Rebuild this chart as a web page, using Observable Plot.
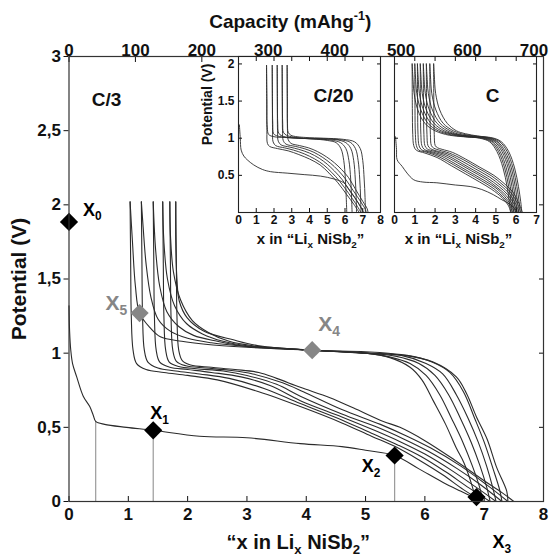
<!DOCTYPE html>
<html><head><meta charset="utf-8">
<script src="https://cdn.jsdelivr.net/npm/d3@7"></script>
<script src="https://cdn.jsdelivr.net/npm/@observablehq/plot@0.6"></script>
<style>
html,body{margin:0;padding:0;background:#fff;}
#chart{position:relative;width:550px;height:558px;overflow:hidden;}
#chart svg{position:absolute;}
</style></head><body><div id="chart"></div>
<script>
// ---------- DATA ----------
const xTicks = [0,1,2,3,4,5,6,7,8];
const yTicks = [0,0.5,1,1.5,2,2.5,3];
const capTicks = [0,100,200,300,400,500,600,700];
const capPerX = 89.3;

// main panel (C/3)
const mainFirst = [[0,1.32],[0.01,1.15],[0.03,1.02],[0.06,0.93],[0.13,0.84],[0.24,0.71],[0.35,0.64],[0.41,0.58],[0.45,0.54],[0.6,0.52],[0.97,0.50],[1.42,0.48],[2.2,0.44],[3.0,0.43],[3.9,0.39],[4.6,0.37],[5.0,0.345],[5.49,0.31],[5.9,0.22],[6.3,0.13],[6.6,0.07],[6.86,0.02]];
const mainCharge = [
 [[6.86,0],[6.8,0.1],[6.66,0.26],[6.53,0.36],[6.35,0.52],[6.14,0.68],[5.95,0.82],[5.75,0.905],[5.41,0.97],[5.0,1.0],[4.1,1.02],[3.0,1.04],[2.3,1.06],[1.9,1.08],[1.54,1.11],[1.37,1.17],[1.19,1.27],[1.12,1.45],[1.07,1.75],[1.03,2.02]],
 [[6.98,0],[6.92,0.1],[6.8,0.24],[6.64,0.4],[6.45,0.56],[6.25,0.72],[6.02,0.85],[5.75,0.93],[5.4,0.975],[5.0,1.0],[4.1,1.02],[3.0,1.045],[2.4,1.07],[2.0,1.1],[1.7,1.15],[1.5,1.23],[1.38,1.38],[1.3,1.6],[1.25,1.85],[1.22,2.02]],
 [[7.1,0],[7.04,0.1],[6.93,0.24],[6.78,0.4],[6.6,0.56],[6.4,0.72],[6.17,0.85],[5.9,0.93],[5.5,0.98],[5.0,1.0],[4.1,1.02],[3.0,1.045],[2.5,1.08],[2.1,1.12],[1.85,1.18],[1.65,1.28],[1.53,1.45],[1.46,1.7],[1.42,2.02]],
 [[7.2,0],[7.14,0.1],[7.04,0.24],[6.9,0.4],[6.73,0.56],[6.53,0.72],[6.3,0.86],[6.02,0.93],[5.6,0.985],[5.0,1.0],[4.1,1.02],[3.0,1.05],[2.6,1.08],[2.25,1.13],[1.98,1.2],[1.78,1.32],[1.66,1.5],[1.6,1.75],[1.58,2.02]],
 [[7.3,0],[7.26,0.08],[7.15,0.22],[7.0,0.4],[6.84,0.56],[6.65,0.74],[6.42,0.87],[6.12,0.94],[5.7,0.985],[5.0,1.0],[4.1,1.02],[3.1,1.05],[2.7,1.08],[2.35,1.14],[2.08,1.22],[1.88,1.36],[1.76,1.55],[1.71,1.8],[1.7,2.02]],
 [[7.4,0],[7.38,0.07],[7.21,0.23],[7.05,0.42],[6.87,0.57],[6.7,0.73],[6.53,0.84],[6.14,0.94],[5.6,0.99],[5.0,1.01],[4.1,1.02],[3.2,1.05],[2.77,1.09],[2.27,1.15],[1.99,1.24],[1.86,1.35],[1.82,1.5],[1.8,1.75],[1.8,2.02]]
];
const mainDischarge = [
 [[1.03,2.02],[1.04,1.6],[1.05,1.25],[1.08,1.02],[1.14,0.93],[1.3,0.89],[1.6,0.87],[2.0,0.85],[2.5,0.82],[3.2,0.74],[3.9,0.64],[4.6,0.53],[5.1,0.44],[5.5,0.37],[5.9,0.28],[6.3,0.18],[6.65,0.08],[6.98,0]],
 [[1.22,2.02],[1.23,1.6],[1.24,1.25],[1.27,1.02],[1.33,0.94],[1.5,0.9],[1.8,0.88],[2.2,0.86],[2.7,0.83],[3.3,0.76],[3.9,0.66],[4.6,0.55],[5.1,0.46],[5.55,0.38],[5.95,0.3],[6.35,0.2],[6.75,0.09],[7.1,0]],
 [[1.42,2.02],[1.43,1.6],[1.44,1.25],[1.47,1.02],[1.53,0.94],[1.7,0.905],[2.0,0.89],[2.4,0.87],[2.9,0.84],[3.4,0.78],[3.9,0.68],[4.6,0.57],[5.15,0.48],[5.6,0.4],[6.0,0.32],[6.45,0.21],[6.85,0.1],[7.2,0]],
 [[1.58,2.02],[1.59,1.6],[1.6,1.25],[1.63,1.02],[1.69,0.94],[1.85,0.91],[2.15,0.895],[2.6,0.88],[3.0,0.85],[3.5,0.79],[3.9,0.71],[4.6,0.59],[5.2,0.5],[5.65,0.42],[6.05,0.34],[6.55,0.22],[6.95,0.11],[7.3,0]],
 [[1.7,2.02],[1.71,1.6],[1.72,1.25],[1.75,1.02],[1.81,0.945],[1.97,0.915],[2.3,0.9],[2.7,0.885],[3.1,0.86],[3.6,0.8],[3.95,0.74],[4.6,0.62],[5.25,0.52],[5.7,0.44],[6.1,0.36],[6.6,0.24],[7.05,0.11],[7.4,0]],
 [[1.8,2.02],[1.81,1.6],[1.82,1.25],[1.85,1.02],[1.91,0.95],[2.05,0.92],[2.4,0.905],[2.8,0.89],[3.2,0.87],[3.5,0.83],[3.9,0.77],[4.4,0.7],[4.8,0.63],[5.3,0.54],[5.58,0.5],[6.0,0.41],[6.5,0.28],[7.0,0.14],[7.3,0.06],[7.5,0]]
];
const markerNames = ["X_{0}","X_{1}","X_{2}","X_{3}","X_{4}","X_{5}"];
const markerX = [0, 1.42, 5.49, 6.87, 4.1, 1.19];
const markerY = [1.885, 0.48, 0.31, 0.03, 1.02, 1.27];
const markerGroup = ["first","first","first","first","cycling","cycling"];
const dropX = [0.45, 1.42, 5.49];
const dropTop = [0.54, 0.48, 0.31];

// inset C/20
const c20First = [[0.05,1.18],[0.1,1.0],[0.15,0.84],[0.3,0.76],[0.49,0.71],[0.86,0.64],[1.34,0.58],[1.8,0.55],[2.74,0.53],[3.7,0.51],[4.62,0.49],[5.4,0.45],[5.93,0.40],[6.2,0.32],[6.5,0.22],[6.97,0.04]];
const c20Charge = [
 [[6.1,0],[6.07,0.2],[6.02,0.45],[5.93,0.7],[5.77,0.86],[5.5,0.94],[5.0,0.97],[4.2,0.99],[3.4,1.0],[2.6,1.01],[2.0,1.02],[1.7,1.05],[1.62,1.15],[1.6,1.5],[1.58,1.98]],
 [[6.4,0],[6.37,0.2],[6.32,0.45],[6.22,0.7],[6.05,0.86],[5.75,0.94],[5.2,0.975],[4.3,0.99],[3.4,1.0],[2.7,1.01],[2.2,1.03],[1.98,1.06],[1.93,1.2],[1.91,1.5],[1.9,1.98]],
 [[6.65,0],[6.63,0.2],[6.58,0.45],[6.49,0.7],[6.33,0.86],[6.05,0.94],[5.5,0.98],[4.5,0.99],[3.5,1.0],[2.9,1.01],[2.45,1.03],[2.26,1.07],[2.21,1.2],[2.19,1.5],[2.18,1.98]],
 [[6.9,0],[6.88,0.2],[6.83,0.45],[6.74,0.7],[6.59,0.86],[6.3,0.945],[5.7,0.98],[4.6,0.995],[3.6,1.0],[3.1,1.015],[2.7,1.04],[2.53,1.08],[2.49,1.2],[2.47,1.5],[2.46,1.98]],
 [[7.15,0],[7.13,0.2],[7.08,0.45],[7.0,0.7],[6.86,0.86],[6.55,0.95],[5.9,0.985],[4.8,1.0],[3.8,1.01],[3.3,1.02],[2.95,1.04],[2.8,1.08],[2.76,1.2],[2.75,1.5],[2.74,1.98]]
];
const c20Discharge = [
 [[1.58,1.98],[1.59,1.5],[1.6,1.1],[1.63,0.93],[1.75,0.89],[2.2,0.86],[2.8,0.83],[3.4,0.78],[4.0,0.72],[4.6,0.64],[5.1,0.53],[5.6,0.4],[6.1,0.24],[6.5,0.11],[6.8,0]],
 [[1.9,1.98],[1.91,1.5],[1.92,1.1],[1.95,0.95],[2.1,0.9],[2.6,0.87],[3.1,0.84],[3.7,0.79],[4.3,0.72],[4.8,0.64],[5.25,0.54],[5.7,0.42],[6.2,0.26],[6.6,0.12],[6.9,0]],
 [[2.18,1.98],[2.19,1.5],[2.2,1.1],[2.24,0.96],[2.4,0.91],[2.9,0.88],[3.4,0.85],[4.0,0.8],[4.55,0.73],[5.0,0.65],[5.4,0.56],[5.85,0.44],[6.3,0.28],[6.75,0.13],[7.05,0]],
 [[2.46,1.98],[2.47,1.5],[2.48,1.1],[2.52,0.97],[2.68,0.92],[3.2,0.89],[3.7,0.86],[4.25,0.81],[4.75,0.74],[5.2,0.66],[5.6,0.57],[6.0,0.46],[6.45,0.3],[6.9,0.14],[7.15,0.04],[7.2,0]],
 [[2.74,1.98],[2.75,1.5],[2.76,1.1],[2.8,0.98],[2.96,0.93],[3.45,0.9],[3.95,0.87],[4.45,0.82],[4.95,0.75],[5.4,0.67],[5.8,0.58],[6.2,0.47],[6.6,0.31],[7.0,0.15],[7.25,0.05],[7.3,0]]
];

// inset C
const c1First = [[0.05,1.02],[0.1,0.85],[0.13,0.71],[0.38,0.62],[0.62,0.53],[0.95,0.44],[1.4,0.41],[2.09,0.40],[3.0,0.37],[3.73,0.35],[4.3,0.31],[4.87,0.24],[5.3,0.17],[5.69,0.11],[6.01,0.03]];
const c1Charge = [
 [[5.72,0],[5.66,0.15],[5.55,0.35],[5.35,0.6],[5.05,0.82],[4.7,0.95],[4.2,1.0],[3.4,1.02],[2.7,1.04],[2.0,1.1],[1.5,1.2],[1.15,1.38],[0.97,1.6],[0.9,1.85],[0.87,2.0]],
 [[5.8,0],[5.74,0.15],[5.63,0.35],[5.43,0.6],[5.13,0.82],[4.78,0.95],[4.3,1.0],[3.5,1.02],[2.8,1.045],[2.15,1.1],[1.65,1.2],[1.3,1.38],[1.1,1.6],[1.03,1.85],[1.0,2.0]],
 [[5.88,0],[5.82,0.15],[5.71,0.35],[5.51,0.6],[5.21,0.82],[4.86,0.95],[4.4,1.0],[3.6,1.02],[2.9,1.05],[2.3,1.1],[1.8,1.2],[1.43,1.38],[1.23,1.6],[1.16,1.85],[1.13,2.0]],
 [[5.96,0],[5.9,0.15],[5.79,0.35],[5.6,0.6],[5.3,0.82],[4.95,0.95],[4.5,1.0],[3.7,1.025],[3.0,1.05],[2.45,1.1],[1.95,1.2],[1.57,1.38],[1.37,1.6],[1.3,1.85],[1.27,2.0]],
 [[6.04,0],[5.98,0.15],[5.87,0.35],[5.68,0.6],[5.38,0.82],[5.03,0.95],[4.6,1.0],[3.8,1.025],[3.1,1.05],[2.6,1.1],[2.1,1.2],[1.72,1.38],[1.52,1.6],[1.45,1.85],[1.42,2.0]],
 [[6.12,0],[6.06,0.15],[5.95,0.35],[5.76,0.6],[5.46,0.82],[5.1,0.95],[4.7,1.0],[3.9,1.025],[3.2,1.05],[2.75,1.1],[2.25,1.2],[1.87,1.38],[1.67,1.6],[1.6,1.85],[1.57,2.0]],
 [[6.2,0],[6.14,0.15],[6.03,0.35],[5.84,0.6],[5.55,0.82],[5.2,0.95],[4.8,1.0],[4.0,1.03],[3.35,1.055],[2.9,1.1],[2.4,1.2],[2.04,1.38],[1.84,1.6],[1.77,1.85],[1.74,2.0]],
 [[6.28,0],[6.22,0.15],[6.11,0.35],[5.92,0.6],[5.63,0.82],[5.28,0.95],[4.9,1.0],[4.1,1.03],[3.5,1.06],[3.05,1.1],[2.6,1.2],[2.23,1.38],[2.03,1.6],[1.96,1.85],[1.93,2.0]]
];
const c1Discharge = [
 [[0.87,2.0],[0.88,1.4],[0.9,1.05],[0.95,0.9],[1.07,0.84],[1.5,0.8],[2.1,0.74],[2.8,0.63],[3.5,0.52],[4.2,0.41],[4.8,0.31],[5.3,0.2],[5.6,0.1],[5.75,0]],
 [[1.0,2.0],[1.01,1.4],[1.03,1.05],[1.08,0.9],[1.2,0.84],[1.6,0.81],[2.2,0.75],[2.9,0.645],[3.6,0.535],[4.3,0.425],[4.9,0.32],[5.35,0.21],[5.67,0.1],[5.82,0]],
 [[1.13,2.0],[1.14,1.4],[1.16,1.05],[1.21,0.9],[1.33,0.845],[1.7,0.815],[2.3,0.76],[3.0,0.655],[3.7,0.545],[4.4,0.435],[5.0,0.33],[5.42,0.22],[5.74,0.1],[5.9,0]],
 [[1.27,2.0],[1.28,1.4],[1.3,1.05],[1.35,0.9],[1.47,0.85],[1.8,0.82],[2.4,0.77],[3.1,0.67],[3.8,0.56],[4.5,0.45],[5.05,0.34],[5.5,0.23],[5.82,0.1],[5.98,0]],
 [[1.42,2.0],[1.43,1.4],[1.45,1.05],[1.5,0.9],[1.62,0.855],[1.95,0.825],[2.5,0.78],[3.2,0.68],[3.9,0.57],[4.6,0.46],[5.15,0.35],[5.58,0.24],[5.9,0.11],[6.06,0]],
 [[1.57,2.0],[1.58,1.4],[1.6,1.05],[1.65,0.9],[1.77,0.86],[2.05,0.83],[2.6,0.79],[3.3,0.695],[4.0,0.585],[4.7,0.475],[5.25,0.36],[5.67,0.25],[5.98,0.11],[6.14,0]],
 [[1.74,2.0],[1.75,1.4],[1.77,1.05],[1.82,0.9],[1.94,0.865],[2.2,0.84],[2.7,0.8],[3.4,0.71],[4.1,0.6],[4.8,0.49],[5.35,0.37],[5.76,0.26],[6.06,0.12],[6.22,0]],
 [[1.93,2.0],[1.94,1.4],[1.96,1.05],[2.01,0.9],[2.13,0.87],[2.35,0.85],[2.85,0.81],[3.5,0.72],[4.2,0.61],[4.9,0.5],[5.45,0.38],[5.85,0.27],[6.14,0.12],[6.3,0]]
];
const insetYTicks = [0.5,1,1.5,2];
const inset1XTicks = [0,1,2,3,4,5,6,7,8];
const inset2XTicks = [0,1,2,3,4,5,6,7];

// ---------- BUILD ----------
const FONT = "'Liberation Sans', Arial, Helvetica, sans-serif";
const rowsOf = (curves, p) => curves.flatMap((c, i) => c.map(([x, y]) => ({x, y, id: p + i})));
const mainRows = [...rowsOf([mainFirst], "f"), ...rowsOf(mainCharge, "c"), ...rowsOf(mainDischarge, "d")];
const markers = markerNames.map((name, i) => ({name, x: markerX[i], y: markerY[i], group: markerGroup[i]}));
const drops = dropX.map((x, i) => ({x, top: dropTop[i]}));
const comma = d => String(d).replace(".", ",");
const plain = d => String(d);
const blank = () => "";
const mid = {textAnchor: "middle", lineAnchor: "middle"};
const lab = (i, dx, dy, size) => Plot.text([markers[i]], {x: "x", y: "y", text: "name", fill: "group", dx, dy, textAnchor: "start", lineAnchor: "middle", fontSize: size, fontWeight: "bold"});

const main = Plot.plot({
  width: 550, height: 558,
  marginTop: 56, marginBottom: 57, marginLeft: 68.5, marginRight: 7,
  x: {domain: [0, 8]},
  y: {domain: [0, 3]},
  color: {domain: ["first", "cycling"], range: ["#000000", "#868686"]},
  style: {fontFamily: FONT, fontWeight: "bold", fontSize: "17px", color: "#111", background: "white", overflow: "visible"},
  marks: [
    Plot.ruleX(drops, {x: "x", y1: 0, y2: "top", stroke: "#9a9a9a", strokeWidth: 1.2}),
    Plot.line(mainRows, {x: "x", y: "y", z: "id", curve: "catmull-rom", stroke: "#2b2b2b", strokeWidth: 1.1}),
    Plot.dot(markers, {x: "x", y: "y", symbol: "diamond2", r: 8.2, fill: "group", stroke: "none"}),
    lab(0, 14, -12, 18), lab(1, -3, -17, 18), lab(2, -33, 11, 18), lab(3, 16, 45, 18),
    lab(4, 6, -26, 21), lab(5, -34, -10, 21),
    Plot.axisX(xTicks, {anchor: "bottom", tickSize: 0, tickPadding: 6, fontSize: 17, label: null}),
    Plot.axisX(xTicks, {anchor: "bottom", tickSize: -5, tickFormat: blank, label: null}),
    Plot.axisX(capTicks.map(c => c / capPerX), {anchor: "top", tickSize: 0, tickPadding: 1, fontSize: 17, tickFormat: d => Math.round(d * capPerX), label: null}),
    Plot.axisX(capTicks.map(c => c / capPerX), {anchor: "top", tickSize: -5, tickFormat: blank, label: null}),
    Plot.axisY(yTicks, {anchor: "left", tickSize: 5, tickPadding: 3, fontSize: 17, tickFormat: comma, label: null}),
    Plot.axisY(yTicks, {anchor: "right", tickSize: -5, tickFormat: blank, label: null}),
    Plot.frame({stroke: "#333", strokeWidth: 1.2}),
    Plot.text(["Capacity (mAhg^{-1})"], {frameAnchor: "top", dx: -16, dy: -35, fontSize: 19, ...mid}),
    Plot.text(["“x in Li_{x} NiSb_{2}”"], {frameAnchor: "bottom", dx: -8, dy: 41, fontSize: 20, ...mid}),
    Plot.text(["Potential (V)"], {frameAnchor: "left", rotate: -90, dx: -50, dy: 0, fontSize: 21, ...mid}),
    Plot.text(["C/3"], {frameAnchor: "top-left", dx: 37.5, dy: 43, fontSize: 19, ...mid})
  ]
});

function makeInset(o) {
  const marks = [
    Plot.frame({fill: "white", stroke: "none"}),
    Plot.line(o.rows, {x: "x", y: "y", z: "id", curve: "catmull-rom", stroke: "#2b2b2b", strokeWidth: 0.9}),
    Plot.axisX(o.xTicks, {anchor: "bottom", tickSize: 0, tickPadding: 3, fontSize: 12, tickFormat: plain, label: null}),
    Plot.axisX(o.xTicks, {anchor: "bottom", tickSize: -4, tickFormat: blank, label: null}),
    Plot.axisX(o.xTicks, {anchor: "top", tickSize: -4, tickFormat: blank, label: null}),
    Plot.axisY(insetYTicks, {anchor: "left", tickSize: -4, tickFormat: blank, label: null}),
    Plot.axisY(insetYTicks, {anchor: "right", tickSize: -4, tickFormat: blank, label: null}),
    Plot.frame({stroke: "#222", strokeWidth: 1.1}),
    Plot.text([o.name], {frameAnchor: "top-left", dx: o.nameDx, dy: 39, fontSize: 19, ...mid}),
    Plot.text(["x in “Li_{x} NiSb_{2}”"], {frameAnchor: "bottom", dx: o.titleDx, dy: 27, fontSize: 15, ...mid})
  ];
  if (o.yLabels) {
    marks.push(
      Plot.axisY(insetYTicks, {anchor: "left", tickSize: 0, tickPadding: 4, fontSize: 12, tickFormat: plain, label: null}),
      Plot.text(["Potential (V)"], {frameAnchor: "left", rotate: -90, dx: -31, dy: -30, fontSize: 14, ...mid})
    );
  }
  return Plot.plot({
    width: o.width, height: 196,
    marginTop: 2, marginBottom: 38, marginLeft: o.ml, marginRight: o.mr,
    x: {domain: [0, o.xTicks[o.xTicks.length - 1]]},
    y: {domain: [0, 2.1]},
    style: {fontFamily: FONT, fontWeight: "bold", fontSize: "12px", color: "#111", background: "transparent", overflow: "visible"},
    marks
  });
}

const inset1 = makeInset({
  width: 189, ml: 42, mr: 5, xTicks: inset1XTicks, yLabels: true, name: "C/20", nameDx: 95, titleDx: 1,
  rows: [...rowsOf([c20First], "f"), ...rowsOf(c20Charge, "c"), ...rowsOf(c20Discharge, "d")]
});
const inset2 = makeInset({
  width: 156, ml: 8, mr: 6, xTicks: inset2XTicks, yLabels: false, name: "C", nameDx: 98, titleDx: -7,
  rows: [...rowsOf([c1First], "f"), ...rowsOf(c1Charge, "c"), ...rowsOf(c1Discharge, "d")]
});

const chart = document.getElementById("chart");
[[main, 0, 0], [inset1, 196, 54], [inset2, 386, 54]].forEach(([svg, l, t]) => {
  svg.style.left = l + "px"; svg.style.top = t + "px"; svg.style.maxWidth = "none";
  chart.appendChild(svg);
});

// subscripts / superscripts as real tspans
function richText(root) {
  const ns = "http://www.w3.org/2000/svg";
  root.querySelectorAll("text, tspan").forEach(el => {
    if (el.childNodes.length !== 1 || el.firstChild.nodeType !== 3) return;
    const str = el.textContent;
    if (!/[_^]\{/.test(str)) return;
    const fs = parseFloat(getComputedStyle(el).fontSize) || 16;
    const parts = str.split(/([_^]\{[^}]*\})/);
    el.textContent = "";
    let shift = 0;
    for (const p of parts) {
      if (!p) continue;
      const m = p.match(/^([_^])\{([^}]*)\}$/);
      const ts = document.createElementNS(ns, "tspan");
      if (m) {
        const target = m[1] === "_" ? fs * 0.26 : -fs * 0.38;
        ts.setAttribute("dy", target - shift); shift = target;
        ts.setAttribute("font-size", fs * 0.66);
        ts.textContent = m[2];
      } else {
        if (shift) { ts.setAttribute("dy", -shift); shift = 0; }
        ts.textContent = p;
      }
      el.appendChild(ts);
    }
  });
}
richText(chart);
</script></body></html>
